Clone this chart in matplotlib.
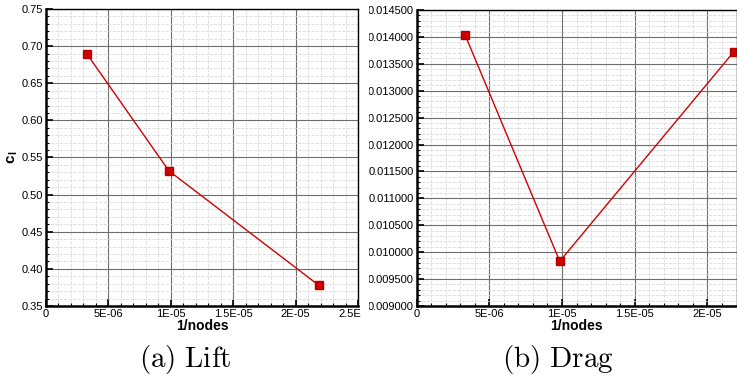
import matplotlib
matplotlib.use('Agg')
import matplotlib.pyplot as plt
from matplotlib.ticker import MultipleLocator, FuncFormatter
from matplotlib.transforms import Bbox, TransformedBbox

# grid refinement data (1/nodes vs coefficient)
inv_nodes = [3.3e-06, 9.85e-06, 2.185e-05]
cl_vals = [0.689, 0.532, 0.378]
inv_nodes_d = [3.35e-06, 9.85e-06, 2.18e-05]
cd_vals = [0.01403, 0.00983, 0.01372]

RED = '#d00000'
plt.rcParams['font.family'] = ['Liberation Sans', 'DejaVu Sans']
plt.rcParams['mathtext.fontset'] = 'cm'


def xfmt(v, pos):
    if abs(v) < 1e-12:
        return '0'
    s = '%.1E' % v
    mant, ex = s.split('E')
    if mant.endswith('.0'):
        mant = mant[:-2]
    return mant + 'E' + ex


def style_axes(ax, ymajor, yminor):
    ax.xaxis.set_major_locator(MultipleLocator(5e-06))
    ax.xaxis.set_minor_locator(MultipleLocator(1e-06))
    ax.yaxis.set_major_locator(MultipleLocator(ymajor))
    ax.yaxis.set_minor_locator(MultipleLocator(yminor))
    ax.xaxis.set_major_formatter(FuncFormatter(xfmt))
    ax.grid(True, which='major', color='#6e6e6e', lw=0.8)
    ax.grid(True, which='minor', color='#dadada', lw=0.6, ls='--')
    ax.set_axisbelow(True)
    ax.tick_params(which='both', direction='in', top=False, right=False,
                   labelsize=8, pad=2)
    ax.tick_params(which='major', length=5, width=1.2)
    ax.tick_params(which='minor', length=2.5, width=0.8)
    ax.spines['left'].set_linewidth(1.8)
    ax.spines['bottom'].set_linewidth(1.8)
    ax.spines['top'].set_linewidth(1.0)
    ax.spines['right'].set_linewidth(1.0)
    ax.set_xlabel('1/nodes', fontsize=10, fontweight='bold', labelpad=0.5)


fig = plt.figure(figsize=(7.37, 3.79), dpi=100)

ax1 = fig.add_axes([46 / 737, 73 / 379, 312 / 737, 297 / 379])
ax1.plot(inv_nodes, cl_vals, color=RED, lw=1.0, marker='s', ms=5.5,
         mfc=RED, mec='#b00000')
ax1.set_xlim(0, 2.5e-05)
ax1.set_ylim(0.35, 0.75)
style_axes(ax1, 0.05, 0.01)
ax1.yaxis.set_major_formatter(FuncFormatter(lambda v, p: '%.2f' % v))
ax1.set_ylabel('c$_\\mathregular{l}$', fontsize=11, fontweight='bold', labelpad=1)

ax2 = fig.add_axes([416.5 / 737, 73 / 379, 320 / 737, 296 / 379])
ax2.plot(inv_nodes_d, cd_vals, color=RED, lw=1.0, marker='s', ms=5.5,
         mfc=RED, mec='#b00000', clip_on=False)
ax2.set_xlim(0, 2.2e-05)
ax2.set_ylim(0.009, 0.0145)
style_axes(ax2, 0.0005, 0.0001)
ax2.yaxis.set_major_formatter(FuncFormatter(lambda v, p: '%.6f' % v))
ax2.set_ylabel('c$_\\mathregular{d}$', fontsize=11, fontweight='bold', labelpad=1)

# captions
fig.text(185 / 737, 1 - 359 / 379, r'$\mathrm{(a)\ Lift}$', fontsize=21,
         ha='center', va='center')
fig.text(558 / 737, 1 - 359 / 379, r'$\mathrm{(b)\ Drag}$', fontsize=21,
         ha='center', va='center')

# clip tick labels to their panels like the cropped subfigures
left_box = TransformedBbox(Bbox([[0, 0], [361 / 737, 1]]), fig.transFigure)
right_box = TransformedBbox(Bbox([[369 / 737, 0], [1, 1]]), fig.transFigure)
fig.canvas.draw()
for lab in ax1.get_xticklabels():
    lab.set_clip_box(left_box)
    lab.set_clip_on(True)
for lab in ax2.get_yticklabels() + [ax2.yaxis.label]:
    lab.set_clip_box(right_box)
    lab.set_clip_on(True)

fig.savefig('out.png', dpi=100)
